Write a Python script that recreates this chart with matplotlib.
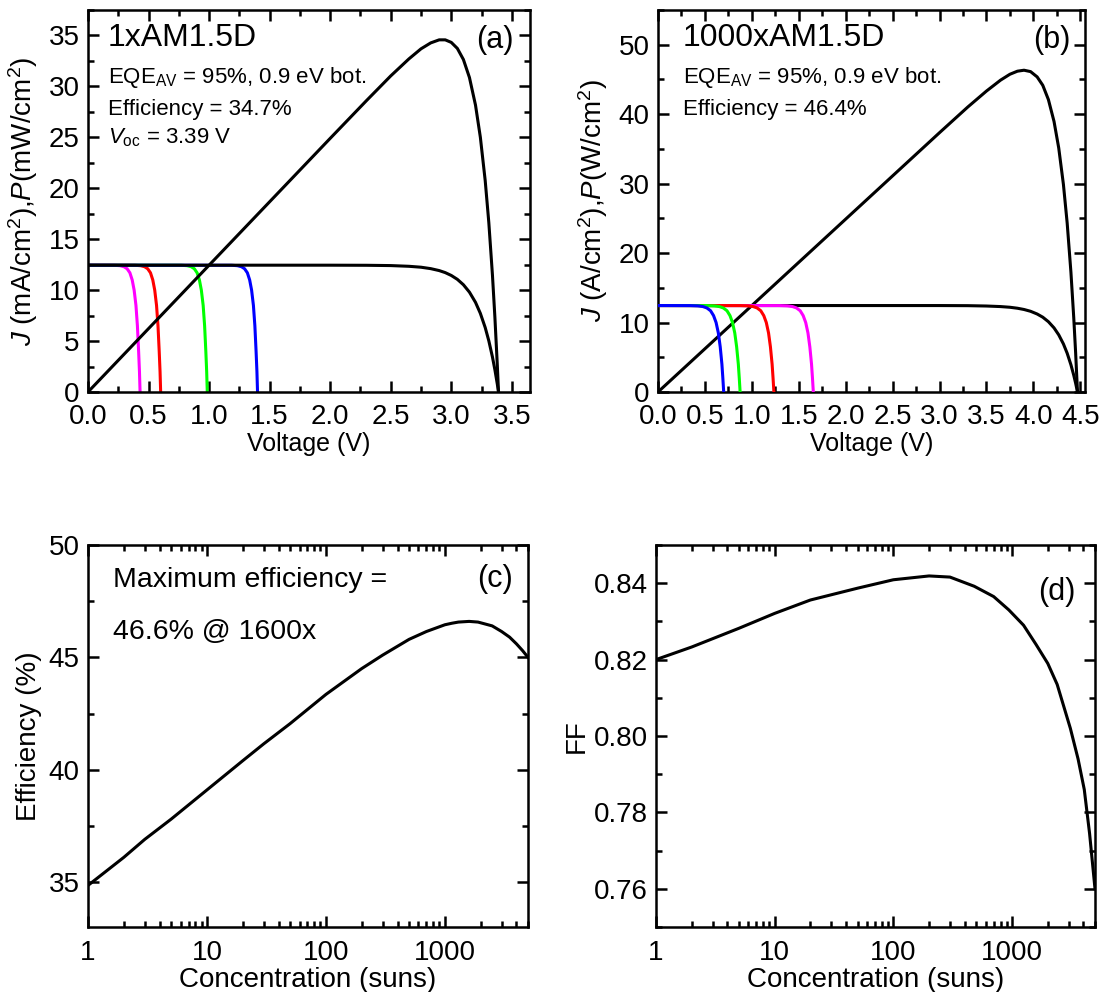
import matplotlib
matplotlib.use("Agg")
import matplotlib.pyplot as plt
from matplotlib.ticker import (MultipleLocator, LogLocator, NullFormatter, FixedLocator,
                               FixedFormatter, FormatStrFormatter)

plt.rcParams['font.family'] = ['Liberation Sans', 'DejaVu Sans']
plt.rcParams['mathtext.fontset'] = 'custom'
plt.rcParams['mathtext.rm'] = 'Liberation Sans'
plt.rcParams['mathtext.it'] = 'Liberation Sans:italic'
plt.rcParams['mathtext.bf'] = 'Liberation Sans:bold'

# ---- (a) 1x AM1.5D : tandem J-V and P-V
v_a = [0, 2.0, 2.3, 2.5, 2.65, 2.75, 2.83, 2.9, 2.95, 3.0, 3.05, 3.1, 3.15, 3.2, 3.24, 3.28, 3.31, 3.34, 3.36,
       3.38, 3.39]
j_a = [12.45, 12.448, 12.439, 12.41, 12.34, 12.25, 12.11, 11.92, 11.72, 11.44, 11.06, 10.53, 9.80, 8.80, 7.72,
       6.33, 5.02, 3.43, 2.19, 0.78, 0]
p_a = [0, 24.90, 28.61, 31.03, 32.70, 33.69, 34.27, 34.57, 34.57, 34.32, 33.73, 32.64, 30.87, 28.16, 25.01,
       20.76, 16.62, 11.46, 7.36, 2.64, 0]

# subcell curves share the same current levels
j_sub = [12.45, 12.44, 12.4, 12.3, 12.1, 11.7, 11.0, 10.0, 8.5, 6.5, 4.0, 2.0, 0.0]
v_a_magenta = [0, 0.216, 0.264, 0.297, 0.323, 0.346, 0.365, 0.381, 0.396, 0.408, 0.418, 0.425, 0.43]
v_a_red = [0, 0.386, 0.434, 0.467, 0.493, 0.516, 0.535, 0.551, 0.566, 0.578, 0.588, 0.595, 0.60]
v_a_green = [0, 0.771, 0.819, 0.852, 0.878, 0.901, 0.92, 0.936, 0.951, 0.963, 0.973, 0.98, 0.985]
v_a_blue = [0, 1.186, 1.234, 1.267, 1.293, 1.316, 1.335, 1.351, 1.366, 1.378, 1.388, 1.395, 1.40]

# ---- (b) 1000x AM1.5D
v_b = [0, 3.0, 3.3, 3.5, 3.65, 3.75, 3.83, 3.9, 3.97, 4.04, 4.1, 4.16, 4.22, 4.27, 4.32, 4.36, 4.4, 4.43,
       4.45, 4.47]
j_b = [12.45, 12.446, 12.43, 12.38, 12.30, 12.20, 12.06, 11.88, 11.62, 11.23, 10.77, 10.12, 9.23, 8.23, 6.92,
       5.58, 3.92, 2.42, 1.28, 0]
p_b = [0, 37.34, 41.02, 43.33, 44.90, 45.75, 46.19, 46.33, 46.13, 45.37, 44.16, 42.10, 38.95, 35.14, 29.89,
       24.33, 17.25, 10.72, 5.70, 0]

v_b_blue = [0, 0.343, 0.424, 0.479, 0.521, 0.56, 0.592, 0.619, 0.643, 0.663, 0.681, 0.691, 0.70]
v_b_green = [0, 0.518, 0.599, 0.654, 0.696, 0.735, 0.767, 0.794, 0.818, 0.838, 0.856, 0.866, 0.875]
v_b_red = [0, 0.878, 0.959, 1.014, 1.056, 1.095, 1.127, 1.154, 1.178, 1.198, 1.216, 1.226, 1.235]
v_b_magenta = [0, 1.298, 1.379, 1.434, 1.476, 1.515, 1.547, 1.574, 1.598, 1.618, 1.636, 1.646, 1.655]

# ---- (c) efficiency vs concentration
conc_c = [1, 2, 3, 5, 10, 20, 30, 50, 100, 200, 300, 500, 700, 1000, 1150, 1300, 1600, 1900, 2500, 3000,
          3500, 4000, 4500, 5000]
eff_c = [34.85, 36.1, 36.9, 37.8, 39.1, 40.4, 41.15, 42.05, 43.35, 44.5, 45.1, 45.8, 46.15, 46.45, 46.52,
         46.57, 46.6, 46.57, 46.4, 46.15, 45.9, 45.6, 45.3, 45.0]

# ---- (d) fill factor vs concentration
conc_d = [1, 2, 5, 10, 20, 50, 100, 200, 300, 480, 700, 940, 1250, 1590, 2000, 2400, 3100, 3600, 4060, 4500,
          5000]
ff_d = [0.820, 0.8233, 0.8282, 0.8321, 0.8356, 0.8387, 0.8409, 0.8419, 0.8416, 0.8392, 0.8365, 0.8330,
        0.8290, 0.8240, 0.8190, 0.8135, 0.8020, 0.7940, 0.7860, 0.7745, 0.7600]

LW = 2.2
FS = 20

fig = plt.figure(figsize=(11.01, 9.92), dpi=100)
W, H = 1101, 992


def box(l, t, r, b):
    return fig.add_axes([l / W, 1 - b / H, (r - l) / W, (b - t) / H])


def style(ax):
    for s in ax.spines.values():
        s.set_linewidth(1.8)
    ax.tick_params(which='both', direction='in', top=True, right=True, labelsize=FS, width=1.8)
    ax.tick_params(which='major', length=8)
    ax.tick_params(which='minor', length=4.5)
    ax.tick_params(axis='x', which='major', pad=9)
    ax.tick_params(axis='y', which='major', pad=6)


ax_a = box(88, 10, 530, 392)
ax_b = box(658, 10, 1085, 392)
ax_c = box(88, 545, 528, 927)
ax_d = box(656, 545, 1095, 927)

# (a)
ax_a.plot(v_a_magenta, j_sub, color='#ff00ff', lw=LW, zorder=2)
ax_a.plot(v_a_red, j_sub, color='#ff0000', lw=LW, zorder=2)
ax_a.plot(v_a_green, j_sub, color='#00ff00', lw=LW, zorder=2)
ax_a.plot(v_a_blue, j_sub, color='#0000ff', lw=LW, zorder=2)
ax_a.plot(v_a, j_a, color='black', lw=LW, zorder=3)
ax_a.plot(v_a, p_a, color='black', lw=LW, zorder=3)
ax_a.set_xlim(0, 3.65)
ax_a.set_ylim(0, 37.5)
ax_a.xaxis.set_major_locator(MultipleLocator(0.5))
ax_a.xaxis.set_minor_locator(MultipleLocator(0.25))
ax_a.yaxis.set_major_locator(MultipleLocator(5))
ax_a.yaxis.set_minor_locator(MultipleLocator(2.5))
ax_a.xaxis.set_major_formatter(FormatStrFormatter('%.1f'))
ax_a.set_xlabel('Voltage (V)', fontsize=18, labelpad=1)
ax_a.set_ylabel('$J$ (mA/cm$^2$),$P$(mW/cm$^2$)', fontsize=20, labelpad=6)
ax_a.text(0.045, 0.905, '1xAM1.5D', transform=ax_a.transAxes, fontsize=23)
ax_a.text(0.962, 0.9, '(a)', transform=ax_a.transAxes, fontsize=22, ha='right')
ax_a.text(0.045, 0.81, 'EQE$_{\\rm AV}$ = 95%, 0.9 eV bot.', transform=ax_a.transAxes, fontsize=16)
ax_a.text(0.045, 0.725, 'Efficiency = 34.7%', transform=ax_a.transAxes, fontsize=16)
ax_a.text(0.045, 0.65, '$V_{\\rm oc}$ = 3.39 V', transform=ax_a.transAxes, fontsize=16)
style(ax_a)

# (b)
ax_b.plot(v_b, j_b, color='black', lw=LW, zorder=2)
ax_b.plot(v_b, p_b, color='black', lw=LW, zorder=2)
ax_b.plot(v_b_magenta, j_sub, color='#ff00ff', lw=LW, zorder=3)
ax_b.plot(v_b_red, j_sub, color='#ff0000', lw=LW, zorder=4)
ax_b.plot(v_b_green, j_sub, color='#00ff00', lw=LW, zorder=5)
ax_b.plot(v_b_blue, j_sub, color='#0000ff', lw=LW, zorder=6)
ax_b.set_xlim(0, 4.55)
ax_b.set_ylim(0, 55)
ax_b.xaxis.set_major_locator(MultipleLocator(0.5))
ax_b.xaxis.set_minor_locator(MultipleLocator(0.25))
ax_b.yaxis.set_major_locator(MultipleLocator(10))
ax_b.yaxis.set_minor_locator(MultipleLocator(5))
ax_b.xaxis.set_major_formatter(FormatStrFormatter('%.1f'))
ax_b.set_xlabel('Voltage (V)', fontsize=18, labelpad=1)
ax_b.set_ylabel('$J$ (A/cm$^2$),$P$(W/cm$^2$)', fontsize=20, labelpad=6)
ax_b.text(0.058, 0.905, '1000xAM1.5D', transform=ax_b.transAxes, fontsize=23)
ax_b.text(0.965, 0.9, '(b)', transform=ax_b.transAxes, fontsize=22, ha='right')
ax_b.text(0.058, 0.81, 'EQE$_{\\rm AV}$ = 95%, 0.9 eV bot.', transform=ax_b.transAxes, fontsize=16)
ax_b.text(0.058, 0.725, 'Efficiency = 46.4%', transform=ax_b.transAxes, fontsize=16)
style(ax_b)

# (c)
ax_c.plot(conc_c, eff_c, color='black', lw=LW)
ax_c.set_xscale('log')
ax_c.set_xlim(1, 5000)
ax_c.set_ylim(33, 50)
ax_c.yaxis.set_major_locator(FixedLocator([35, 40, 45, 50]))
ax_c.yaxis.set_minor_locator(MultipleLocator(2.5))
ax_c.xaxis.set_major_locator(FixedLocator([1, 10, 100, 1000]))
ax_c.xaxis.set_major_formatter(FixedFormatter(['1', '10', '100', '1000']))
ax_c.xaxis.set_minor_locator(LogLocator(base=10, subs=range(2, 10), numticks=20))
ax_c.xaxis.set_minor_formatter(NullFormatter())
ax_c.set_xlabel('Concentration (suns)', fontsize=20, labelpad=1)
ax_c.set_ylabel('Efficiency (%)', fontsize=20, labelpad=5)
ax_c.text(0.057, 0.89, 'Maximum efficiency =', transform=ax_c.transAxes, fontsize=20.5)
ax_c.text(0.057, 0.755, '46.6% @ 1600x', transform=ax_c.transAxes, fontsize=20.5)
ax_c.text(0.965, 0.89, '(c)', transform=ax_c.transAxes, fontsize=22, ha='right')
style(ax_c)

# (d)
ax_d.plot(conc_d, ff_d, color='black', lw=LW)
ax_d.set_xscale('log')
ax_d.set_xlim(1, 5000)
ax_d.set_ylim(0.75, 0.85)
ax_d.yaxis.set_major_locator(FixedLocator([0.76, 0.78, 0.80, 0.82, 0.84]))
ax_d.yaxis.set_major_formatter(FormatStrFormatter('%.2f'))
ax_d.yaxis.set_minor_locator(MultipleLocator(0.01))
ax_d.xaxis.set_major_locator(FixedLocator([1, 10, 100, 1000]))
ax_d.xaxis.set_major_formatter(FixedFormatter(['1', '10', '100', '1000']))
ax_d.xaxis.set_minor_locator(LogLocator(base=10, subs=range(2, 10), numticks=20))
ax_d.xaxis.set_minor_formatter(NullFormatter())
ax_d.set_xlabel('Concentration (suns)', fontsize=20, labelpad=1)
ax_d.set_ylabel('FF', fontsize=20, labelpad=3)
ax_d.text(0.955, 0.855, '(d)', transform=ax_d.transAxes, fontsize=22, ha='right')
style(ax_d)

fig.savefig('out.png', dpi=100)
